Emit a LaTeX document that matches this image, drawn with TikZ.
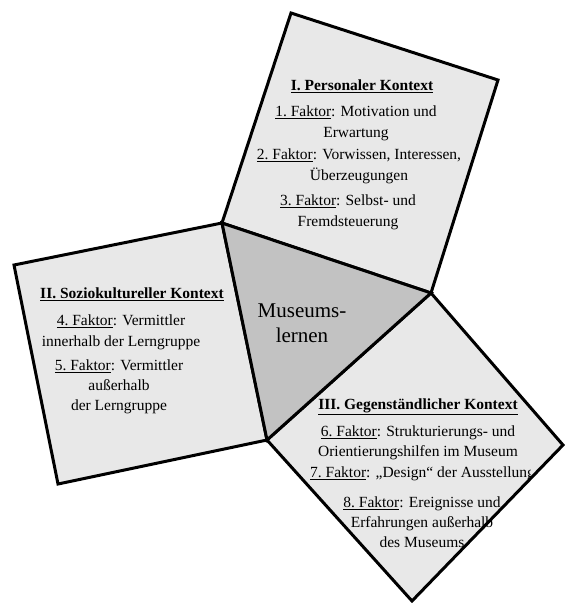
\documentclass[tikz,border=0pt]{standalone}
\usepackage{fontspec}
\setmainfont{Liberation Serif}
\definecolor{quadgray}{gray}{0.91}
\definecolor{trigray}{gray}{0.76}
\newcommand\fak[1]{\underline{#1.~Faktor}}

\begin{document}
\begin{tikzpicture}[x=1pt,y=-1pt,
		side/.style={draw,line width=3pt,line join=miter,fill=quadgray},
		txt/.style={align=center,inner sep=0pt,font=\fontsize{15.5}{21}\selectfont},
		ttl/.style={inner sep=0pt,font=\fontsize{15.5}{21}\selectfont\bfseries}
		]
		\useasboundingbox (0,0) rectangle (565,603);
		
		\coordinate (A) at (222,223);
		\coordinate (B) at (431,293);
		\coordinate (C) at (267,440);
		\coordinate (T1) at (291,13);
		\coordinate (T2) at (498,80);
		\coordinate (L1) at (14,265);
		\coordinate (L2) at (58,484);
		\coordinate (R1) at (563,445);
		\coordinate (R2) at (412,601);
		
		\foreach \p/\q/\r/\s in {A/T1/T2/B,A/L1/L2/C,B/R1/R2/C} {
			\draw[side] (\p) -- (\q) -- (\r) -- (\s) -- cycle;
		}
		\draw[side,fill=trigray] (A) -- (B) -- (C) -- cycle;
		
		\node[txt,font=\fontsize{21}{25}\selectfont] (ml) at (302,323) {Museums-\\lernen};
		
		\node[ttl] (t1) at (362,86) {\underline{I. Personaler Kontext}};
		\node[txt] (f1) at (356,123) {\fak{1}: Motivation und\\Erwartung};
		\node[txt] (f2) at (359,166) {\fak{2}: Vorwissen, Interessen,\\Überzeugungen};
		\node[txt] (f3) at (348,212) {\fak{3}: Selbst- und\\Fremdsteuerung};
		
		\node[ttl] (t2) at (132,294) {\underline{II. Soziokultureller Kontext}};
		\node[txt] (f4) at (121,332) {\fak{4}: Vermittler\\innerhalb der Lerngruppe};
		\node[txt,font=\fontsize{15.5}{20}\selectfont] (f5) at (119,387) {\fak{5}: Vermittler\\außerhalb\\der Lerngruppe};
		
		\node[ttl] (t3) at (418,407) {\underline{III. Gegenständlicher Kontext}};
		\node[txt,font=\fontsize{15.5}{20}\selectfont] (f6) at (418,443) {\fak{6}: Strukturierungs- und\\Orientierungshilfen im Museum};
		\begin{scope}
			\clip (300,455) rectangle (530,490);
			\node[txt,anchor=west] (f7) at (310,474) {\fak{7}: „Design“ der Ausstellung};
		\end{scope}
		\node[txt,font=\fontsize{15.5}{20}\selectfont] (f8) at (422,522) {\fak{8}: Ereignisse und\\Erfahrungen außerhalb\\des Museums};
	\end{tikzpicture}
\end{document}
